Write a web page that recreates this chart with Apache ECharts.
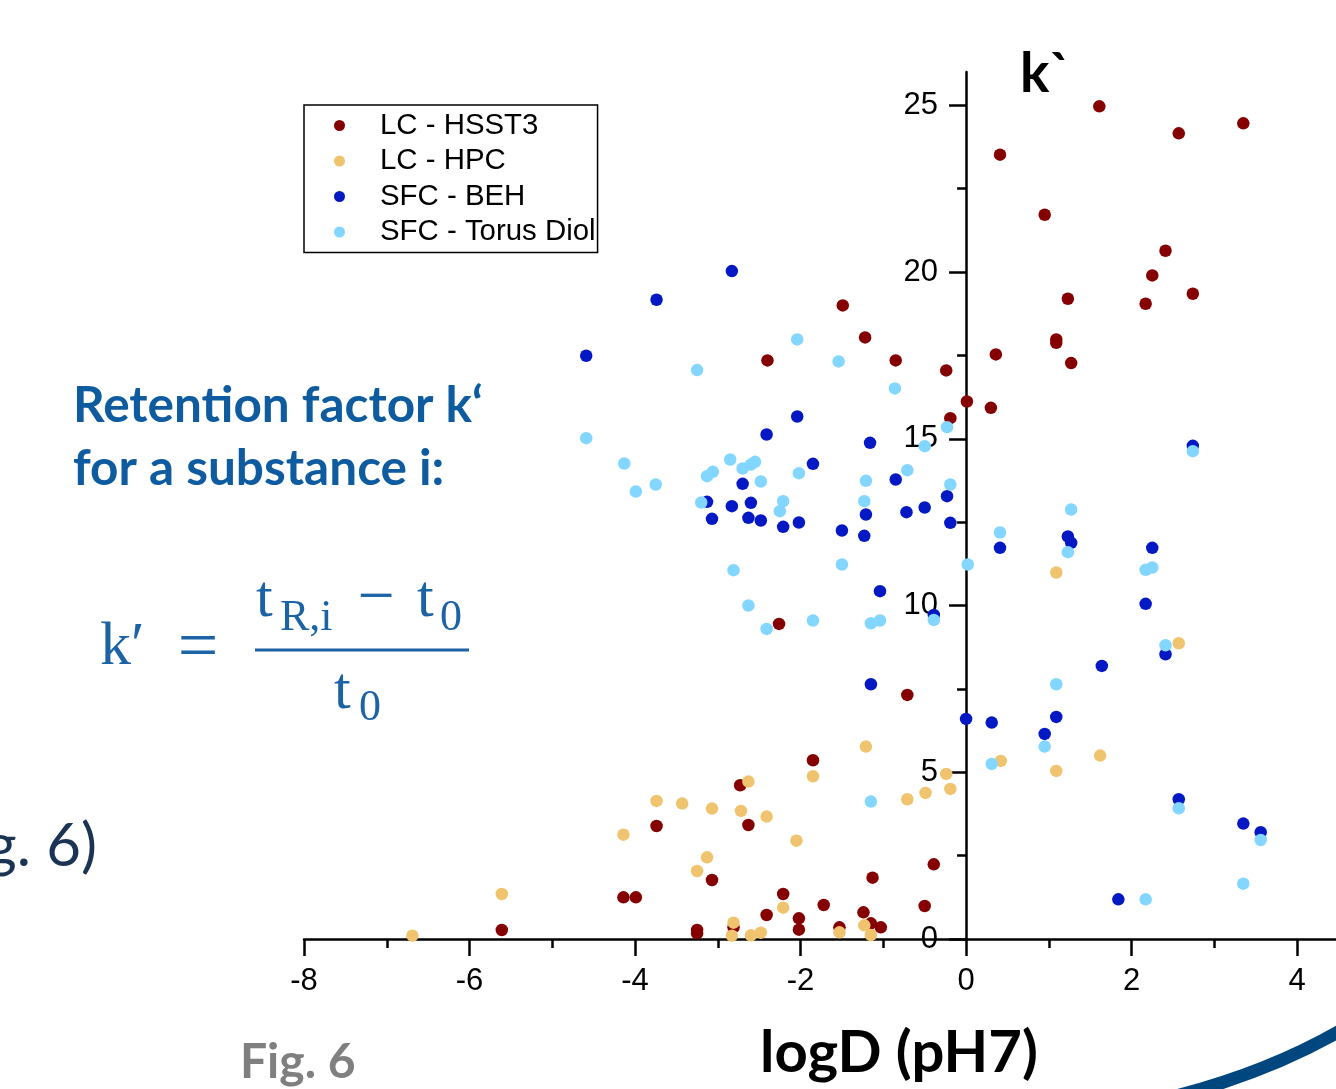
<!DOCTYPE html>
<html>
<head>
<meta charset="utf-8">
<script src="https://cdn.jsdelivr.net/npm/echarts@6.0.0/dist/echarts.min.js"></script>
<style>
html,body{margin:0;padding:0;background:#fff;}
#chart{width:1336px;height:1089px;}
</style>
</head>
<body>
<div id="chart"></div>
<script>
// ---- data (logD pH7, k') ----
const seriesNames = ['LC - HSST3', 'LC - HPC', 'SFC - BEH', 'SFC - Torus Diol'];
const lcHSST3 = [
  [1.61,24.97],[2.57,24.16],[3.35,24.46],[0.41,23.52],[0.95,21.72],[2.41,20.64],[2.25,19.90],
  [1.23,19.20],[2.74,19.35],[2.17,19.05],[-1.49,19.00],[-1.22,18.04],[1.09,17.98],[1.09,17.88],
  [0.36,17.53],[-2.40,17.35],[-0.85,17.35],[1.27,17.27],[-0.24,17.05],[0.01,16.12],[0.30,15.93],
  [-0.19,15.62],[-2.26,9.45],[-0.71,7.32],[-1.85,5.36],[-2.73,4.61],[-2.63,3.42],[-3.74,3.39],
  [-0.39,2.24],[-3.07,1.77],[-1.13,1.84],[-4.14,1.25],[-3.99,1.25],[-2.21,1.35],[-1.72,1.02],
  [-0.50,0.99],[-1.24,0.80],[-2.41,0.72],[-2.02,0.62],[-3.25,0.27],[-3.25,0.17],[-2.81,0.35],
  [-2.02,0.28],[-1.53,0.35],[-1.15,0.47],[-1.03,0.35],[-5.61,0.27]
];
const lcHPC = [
  [-6.69,0.10],[-5.61,1.35],[-4.14,3.13],[-3.74,4.14],[-3.43,4.06],[-3.07,3.91],[-2.72,3.84],
  [-2.41,3.67],[-2.63,4.72],[-1.85,4.88],[-1.21,5.77],[-0.24,4.95],[-0.19,4.50],[-0.49,4.38],
  [-0.71,4.19],[-2.05,2.95],[-3.13,2.45],[-3.25,2.04],[-2.21,0.94],[-2.81,0.49],[-2.83,0.10],
  [-2.60,0.11],[-2.48,0.19],[-1.53,0.20],[-1.23,0.41],[-1.15,0.12],[0.42,5.34],[1.09,5.04],
  [1.62,5.50],[1.09,10.99],[2.57,8.87]
];
const sfcBEH = [
  [-2.83,20.03],[-3.74,19.17],[-4.59,17.49],[-2.41,15.13],[-2.04,15.67],[-1.16,14.88],[-1.85,14.25],
  [-2.70,13.65],[-0.85,13.78],[-3.13,13.11],[-2.83,12.98],[-2.60,13.08],[-3.07,12.60],[-2.63,12.63],
  [-2.48,12.55],[-2.21,12.36],[-2.02,12.49],[-1.21,12.73],[-0.72,12.80],[-0.50,12.94],[-0.23,13.28],
  [-0.19,12.48],[-1.50,12.25],[-1.23,12.09],[-1.04,10.43],[-0.39,9.72],[-1.15,7.64],[0.00,6.60],
  [0.31,6.49],[0.95,6.15],[1.09,6.66],[1.64,8.19],[2.41,8.54],[2.17,10.05],[2.25,11.73],
  [1.23,12.07],[1.27,11.88],[0.41,11.73],[2.74,14.79],[2.57,4.19],[3.35,3.46],[3.56,3.20],[1.84,1.19]
];
const sfcTorusDiol = [
  [-4.59,15.02],[-4.13,14.26],[-3.99,13.42],[-3.75,13.63],[-3.25,17.06],[-2.04,17.98],[-1.54,17.32],
  [-0.86,16.51],[-0.23,15.35],[-0.50,14.78],[-2.85,14.38],[-2.70,14.11],[-2.60,14.23],[-2.55,14.31],
  [-3.13,13.88],[-3.06,14.01],[-2.02,13.97],[-0.71,14.06],[-2.48,13.72],[-1.21,13.74],[-0.19,13.63],
  [-3.20,13.09],[-2.21,13.13],[-2.25,12.83],[-1.23,13.13],[-1.50,11.23],[0.02,11.23],[-2.81,11.06],
  [-2.63,10.00],[-2.41,9.30],[-1.85,9.55],[-1.15,9.47],[-1.04,9.55],[-0.39,9.57],[-1.15,4.12],
  [0.41,12.19],[1.27,12.88],[1.23,11.60],[2.17,11.07],[2.25,11.14],[2.41,8.81],[2.74,14.63],
  [1.09,7.64],[0.95,5.77],[0.31,5.25],[2.57,3.92],[3.56,2.97],[3.35,1.66],[2.17,1.19]
];
const xMajorTicks = [-8,-6,-4,-2,0,2,4];
const xMinorTicks = [-7,-5,-3,-1,1,3];
const yMajorTicks = [0,5,10,15,20,25];
const yMinorTicks = [2.5,7.5,12.5,17.5,22.5];
const xRange = [-8, 4.47];
const yRange = [0, 26];
const colors = ['#850000', '#f0c46e', '#0418c4', '#82d6ff'];
const seriesData = [lcHSST3, lcHPC, sfcBEH, sfcTorusDiol];

const chartW = 1336, gridLeft = 304, gridRight = 0;
const gridWidth = chartW - gridLeft - gridRight;
// y axis crosses the x axis at logD = 0
const yAxisOffset = -((0 - xRange[0]) / (xRange[1] - xRange[0])) * gridWidth;

const chart = echarts.init(document.getElementById('chart'), null, {renderer: 'canvas'});
const axisFont = {fontFamily: 'Liberation Sans, Arial, sans-serif', fontSize: 31, color: '#000'};
const blue = '#0e5c9f';
const mathBlue = '#1c63a5';
const serif = 'Liberation Serif, DejaVu Serif, serif';
const lato = 'Lato, Carlito, sans-serif';

const option = {
  animation: false,
  backgroundColor: '#fff',
  color: colors,
  grid: {left: gridLeft, right: gridRight, top: 72, bottom: 150, containLabel: false, outerBoundsMode: 'none'},
  legend: {
    data: seriesNames,
    orient: 'vertical',
    align: 'left',
    left: 304, top: 105,
    padding: [6, 2, 6, 30],
    itemWidth: 71, itemHeight: 11, itemGap: 6.5,
    icon: 'circle',
    borderColor: '#000', borderWidth: 1.5, borderRadius: 0,
    textStyle: {fontFamily: 'Liberation Sans, Arial, sans-serif', fontSize: 29.4, color: '#000'}
  },
  xAxis: [
    {
      type: 'value', min: xRange[0], max: xRange[1], position: 'bottom',
      axisLine: {show: true, onZero: false, lineStyle: {color: '#000', width: 2.5}},
      axisTick: {show: true, customValues: xMajorTicks, length: 17, lineStyle: {color: '#000', width: 2.5}},
      axisLabel: Object.assign({show: true, customValues: xMajorTicks, margin: 27}, axisFont),
      splitLine: {show: false}
    },
    {
      type: 'value', min: xRange[0], max: xRange[1], position: 'bottom',
      axisLine: {show: false, onZero: false},
      axisTick: {show: true, customValues: xMinorTicks, length: 9, lineStyle: {color: '#000', width: 2.5}},
      axisLabel: {show: false},
      splitLine: {show: false}
    }
  ],
  yAxis: [
    {
      type: 'value', min: yRange[0], max: yRange[1], position: 'left', offset: yAxisOffset,
      axisLine: {show: true, onZero: false, lineStyle: {color: '#000', width: 2.5}},
      axisTick: {show: true, customValues: yMajorTicks, length: 17, lineStyle: {color: '#000', width: 2.5}},
      axisLabel: Object.assign({show: true, customValues: yMajorTicks, margin: 28}, axisFont),
      splitLine: {show: false}
    },
    {
      type: 'value', min: yRange[0], max: yRange[1], position: 'left', offset: yAxisOffset,
      axisLine: {show: false, onZero: false},
      axisTick: {show: true, customValues: yMinorTicks, length: 9, lineStyle: {color: '#000', width: 2.5}},
      axisLabel: {show: false},
      splitLine: {show: false}
    }
  ],
  series: seriesNames.map((name, i) => ({
    name: name,
    type: 'scatter',
    xAxisIndex: 0, yAxisIndex: 0,
    data: seriesData[i],
    symbol: 'circle',
    symbolSize: 12.5,
    itemStyle: {color: colors[i], opacity: 1},
    emphasis: {disabled: true},
    z: 3 + i
  })),
  graphic: [
    {type: 'text', x: 73, y: 406, style: {text: 'Retention factor k‘', font: 'bold 49.5px ' + lato, fill: blue, verticalAlign: 'middle', align: 'left'}},
    {type: 'text', x: 73, y: 469, style: {text: 'for a substance i:', font: 'bold 49.5px ' + lato, fill: blue, verticalAlign: 'middle', align: 'left'}},
    // formula
    {type: 'text', x: 100, y: 648, style: {text: 'k′', font: '62px ' + serif, fill: mathBlue, verticalAlign: 'middle', align: 'left'}},
    {type: 'text', x: 198, y: 650, style: {text: '=', font: '72px ' + serif, fill: mathBlue, verticalAlign: 'middle', align: 'center'}},
    {type: 'text', x: 256, y: 600, style: {text: 't', font: '60px ' + serif, fill: mathBlue, verticalAlign: 'middle', align: 'left'}},
    {type: 'text', x: 280, y: 618, style: {text: 'R,i', font: '44px ' + serif, fill: mathBlue, verticalAlign: 'middle', align: 'left'}},
    {type: 'text', x: 376, y: 600, style: {text: '−', font: '66px ' + serif, fill: mathBlue, verticalAlign: 'middle', align: 'center'}},
    {type: 'text', x: 417, y: 600, style: {text: 't', font: '60px ' + serif, fill: mathBlue, verticalAlign: 'middle', align: 'left'}},
    {type: 'text', x: 440, y: 618, style: {text: '0', font: '44px ' + serif, fill: mathBlue, verticalAlign: 'middle', align: 'left'}},
    {type: 'rect', shape: {x: 255, y: 648.5, width: 214, height: 3}, style: {fill: mathBlue}},
    {type: 'text', x: 334, y: 692, style: {text: 't', font: '60px ' + serif, fill: mathBlue, verticalAlign: 'middle', align: 'left'}},
    {type: 'text', x: 359, y: 708, style: {text: '0', font: '44px ' + serif, fill: mathBlue, verticalAlign: 'middle', align: 'left'}},
    // cut-off caption text at left
    {type: 'text', x: 97, y: 847, style: {text: 'g. 6)', font: '60px ' + lato, fill: '#1b3453', verticalAlign: 'middle', align: 'right'}},
    {type: 'text', x: 240, y: 1063, style: {text: 'Fig. 6', font: 'bold 48px ' + lato, fill: '#7f7f7f', verticalAlign: 'middle', align: 'left'}},
    // axis titles
    {type: 'text', x: 760, y: 1053, style: {text: 'logD (pH7)', font: 'bold 58px ' + lato, fill: '#000', verticalAlign: 'middle', align: 'left'}},
    {type: 'text', x: 1020, y: 74, style: {text: 'k`', font: 'bold 55px ' + lato, fill: '#000', verticalAlign: 'middle', align: 'left'}},
    // decorative swoosh
    {type: 'bezierCurve', shape: {x1: 1160, y1: 1100, cpx1: 1265, cpy1: 1075, x2: 1345, y2: 1028}, style: {fill: null, stroke: '#00467f', lineWidth: 13}}
  ]
};
chart.setOption(option);
</script>
</body>
</html>
